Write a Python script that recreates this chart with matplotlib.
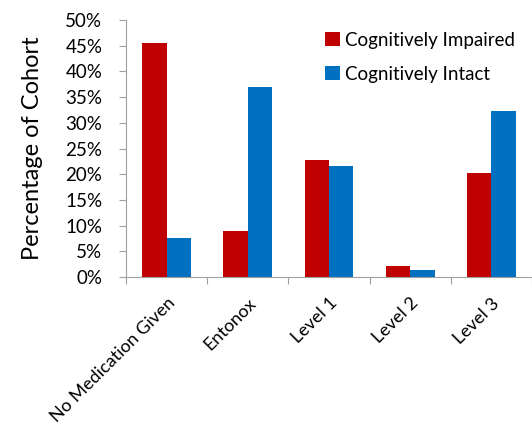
import matplotlib.pyplot as plt
import numpy as np
from matplotlib.ticker import PercentFormatter

categories = ["No Medication Given", "Entonox", "Level 1", "Level 2", "Level 3"]
impaired = [45.6, 9.0, 22.7, 2.1, 20.3]
intact = [7.6, 36.9, 21.5, 1.4, 32.3]

plt.rcParams['font.family'] = ['Lato', 'DejaVu Sans']

fig = plt.figure(figsize=(5.32, 4.29), dpi=100)
ax = fig.add_axes([126 / 532, 1 - 277 / 429, 1 - 126 / 532, 257 / 429])

x = np.arange(len(categories))
w = 0.3
ax.bar(x - w / 2, impaired, w, color="#C00000", label="Cognitively Impaired")
ax.bar(x + w / 2, intact, w, color="#0070C0", label="Cognitively Intact")

ax.set_xlim(-0.5, len(categories) - 0.5)
ax.set_ylim(0, 50)
ax.set_yticks(np.arange(0, 51, 5))
ax.yaxis.set_major_formatter(PercentFormatter(decimals=0))

# group separators as major ticks, category names as minor tick labels
ax.set_xticks(np.arange(len(categories) + 1) - 0.5, minor=False)
ax.set_xticklabels([])
ax.set_xticks(x, minor=True)
ax.set_xticklabels(categories, minor=True, rotation=45, ha="right", va="top",
                   rotation_mode="anchor", fontsize=13)
ax.tick_params(axis="x", which="minor", length=0, pad=13)
ax.tick_params(axis="x", which="major", length=5, color="#A0A0A0")
ax.tick_params(axis="y", length=5, color="#A0A0A0", labelsize=13.5, pad=12)

for s in ["top", "right"]:
    ax.spines[s].set_visible(False)
for s in ["left", "bottom"]:
    ax.spines[s].set_color("#A0A0A0")

ax.set_ylabel("Percentage of Cohort", fontsize=17, labelpad=16)

ax.legend(loc="upper right", bbox_to_anchor=(1.0, 1.02), frameon=False, fontsize=13.5,
          handlelength=0.75, handleheight=0.75, handletextpad=0.3, labelspacing=0.9)

fig.savefig("out.png", dpi=100)
